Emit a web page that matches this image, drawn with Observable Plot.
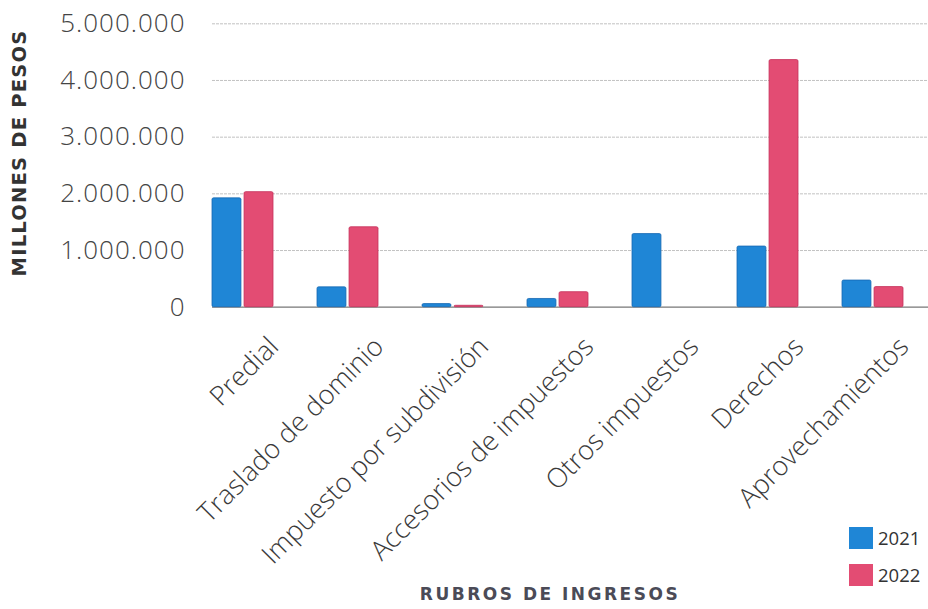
<!DOCTYPE html>
<html><head><meta charset="utf-8">
<script src="https://cdn.jsdelivr.net/npm/d3@7"></script>
<script src="https://cdn.jsdelivr.net/npm/@observablehq/plot@0.6"></script>
<style>
body{margin:0;background:#fff;}
#wrap{position:relative;width:928px;height:609px;overflow:hidden;font-family:"Open Sans",sans-serif;}
#ytitle{position:absolute;left:19px;top:153px;transform:translate(-50%,-50%) rotate(-90deg);font-family:"DejaVu Sans",sans-serif;font-weight:700;font-size:19.5px;letter-spacing:1.2px;color:#333;white-space:nowrap;}
#xtitle{position:absolute;left:550px;top:584px;transform:translateX(-50%);font-family:"DejaVu Sans",sans-serif;font-weight:700;font-size:17px;letter-spacing:2.5px;color:#4b4b57;white-space:nowrap;}
.lg{position:absolute;left:849px;display:flex;align-items:center;font-size:18.5px;color:#333;}
.lg span.sw{display:inline-block;width:24px;height:22px;margin-right:5px;}
svg g[aria-label="y-axis tick label"] text{letter-spacing:1px;}
</style></head>
<body>
<div id="wrap">
  <div id="chart"></div>
  <div id="ytitle"></div>
  <div id="xtitle"></div>
  <div id="legend"></div>
</div>
<script>
const categories = ["Predial","Traslado de dominio","Impuesto por subdivisión","Accesorios de impuestos","Otros impuestos","Derechos","Aprovechamientos"];
const v2021 = [1920000, 350000, 55000, 145000, 1290000, 1070000, 470000];
const v2022 = [2030000, 1410000, 25000, 265000, 0, 4360000, 355000];
const years = ["2021","2022"];
const colors = ["#1f86d6","#e34c73"];
const strokes = ["#1668b3","#c5305a"];
const yTicks = [0,1000000,2000000,3000000,4000000,5000000];
const yTitle = "MILLONES DE PESOS";
const xTitle = "RUBROS DE INGRESOS";

const d2021 = categories.map((c,i)=>({cat:c, value:v2021[i]}));
const d2022 = categories.map((c,i)=>({cat:c, value:v2022[i]}));

const fmt = d3.formatLocale({thousands:".", grouping:[3], decimal:",", currency:["$",""]}).format(",d");

const W = 928, H = 609, mL = 212, mR = 0, mT = 23.3, mB = 302.3;
const pIn = 0.42, pOut = 0.107;
const step = (W - mL - mR) / (categories.length - pIn + 2*pOut);
const bw = step * (1 - pIn);
const inset = bw/2 + 1.5;

const chart = Plot.plot({
  width: W, height: H,
  marginLeft: mL, marginRight: mR, marginTop: mT, marginBottom: mB,
  style: {fontFamily: "'Open Sans', sans-serif", background: "#fff"},
  x: {domain: categories, paddingInner: pIn, paddingOuter: pOut, align: 0, label: null},
  y: {domain: [0, 5000000], label: null},
  marks: [
    Plot.gridY(yTicks.slice(1), {stroke: "#999", strokeOpacity: 0.6, strokeDasharray: "3,1"}),
    Plot.ruleY([0], {stroke: "#777", strokeWidth: 1.3}),
    Plot.barY(d2021, {x: "cat", y: "value", fill: colors[0], stroke: strokes[0], strokeWidth: 0.8, insetRight: inset, rx: 1.5}),
    Plot.barY(d2022, {x: "cat", y: "value", fill: colors[1], stroke: strokes[1], strokeWidth: 0.8, insetLeft: inset, rx: 1.5}),
    Plot.axisY(yTicks, {tickSize: 0, tickPadding: 27, tickFormat: fmt, fontSize: 26, fontWeight: 300, fill: "#444", label: null}),
    Plot.axisX({tickSize: 0, tickRotate: -45, fontSize: 27, fontWeight: 300, fill: "#3a3a3a", dx: 31, dy: 35, label: null, tickPadding: 0})
  ]
});
document.getElementById("chart").appendChild(chart);
document.getElementById("ytitle").textContent = yTitle;
document.getElementById("xtitle").textContent = xTitle;
const lg = document.getElementById("legend");
years.forEach((y,i)=>{
  const d = document.createElement("div");
  d.className = "lg";
  d.style.top = (525 + i*37) + "px";
  d.innerHTML = `<span class="sw" style="background:${colors[i]}"></span><span>${y}</span>`;
  lg.appendChild(d);
});
</script>
</body></html>
